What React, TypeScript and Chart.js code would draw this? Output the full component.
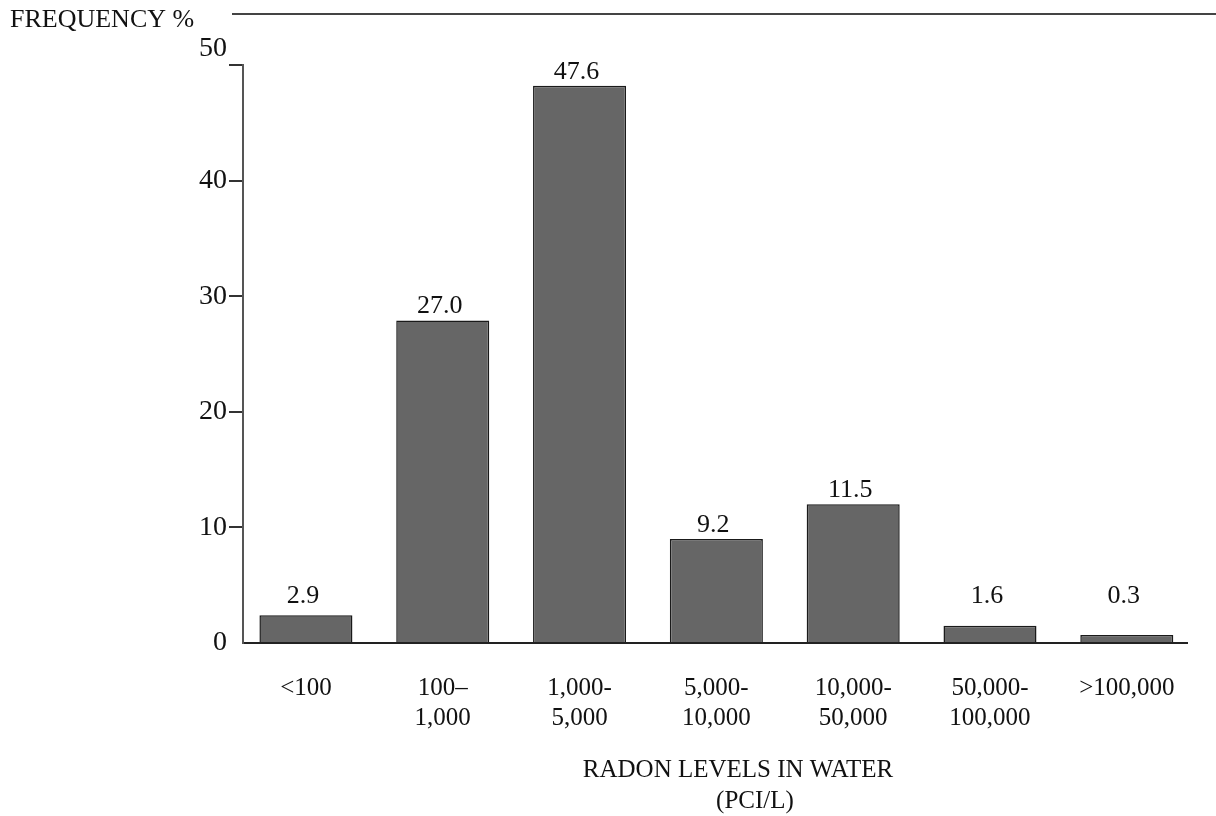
import React, { useEffect, useRef } from 'react';
import { Chart, registerables } from 'chart.js';

Chart.register(...registerables);

// ---- data ----
const categories: string[][] = [
  ['<100'],
  ['100–', '1,000'],
  ['1,000-', '5,000'],
  ['5,000-', '10,000'],
  ['10,000-', '50,000'],
  ['50,000-', '100,000'],
  ['>100,000'],
];
// bar heights as drawn in the picture (percent)
const barHeights = [2.4, 27.9, 48.2, 9.0, 12.0, 1.5, 0.7];
// value labels printed above the bars
const valueLabels = ['2.9', '27.0', '47.6', '9.2', '11.5', '1.6', '0.3'];
const yTicks = [0, 10, 20, 30, 40, 50];
const yAxisLabel = 'FREQUENCY %';
const xAxisTitle = ['RADON LEVELS IN WATER', '(PCI/L)'];

// ---- style ----
const FONT = "'Liberation Serif', 'DejaVu Serif', 'Times New Roman', serif";
const TEXT = '#111111';

const decorPlugin = {
  id: 'decor',
  afterDatasetsDraw(chart: any) {
    const ctx = chart.ctx;
    const yScale = chart.scales.y;
    const meta = chart.getDatasetMeta(0);
    ctx.save();
    ctx.font = `26px ${FONT}`;
    ctx.fillStyle = TEXT;
    ctx.textAlign = 'center';
    ctx.textBaseline = 'alphabetic';
    const floor = yScale.getPixelForValue(3.5);
    meta.data.forEach((bar: any, i: number) => {
      const ty = Math.min(bar.y - 7, floor);
      ctx.fillText(valueLabels[i], bar.x - 3, ty);
    });
    ctx.restore();
  },
  afterDraw(chart: any) {
    const ctx = chart.ctx;
    const area = chart.chartArea;
    ctx.save();
    // top-left axis label
    ctx.font = `26px ${FONT}`;
    ctx.fillStyle = TEXT;
    ctx.textAlign = 'left';
    ctx.textBaseline = 'alphabetic';
    ctx.fillText(yAxisLabel, 10, 27);
    // rule at the top
    ctx.strokeStyle = '#444444';
    ctx.lineWidth = 2;
    ctx.beginPath();
    ctx.moveTo(232, 14);
    ctx.lineTo(chart.width, 14);
    ctx.stroke();
    // x axis title
    const cx = (area.left + area.right) / 2;
    ctx.font = `25px ${FONT}`;
    ctx.textAlign = 'center';
    ctx.fillText(xAxisTitle[0], cx + 23, 777);
    ctx.fillText(xAxisTitle[1], cx + 40, 808);
    ctx.restore();
  },
};

export default function App() {
  const canvasRef = useRef<HTMLCanvasElement | null>(null);

  useEffect(() => {
    const canvas = canvasRef.current;
    if (!canvas) return;
    const chart = new Chart(canvas, {
      type: 'bar',
      data: {
        datasets: [
          {
            data: barHeights.map((v, i) => ({ x: i, y: v })),
            backgroundColor: '#666666',
            borderColor: '#1a1a1a',
            borderWidth: 1.5,
            borderSkipped: 'start',
            categoryPercentage: 1,
            barPercentage: 0.68,
          } as any,
        ],
      },
      options: {
        responsive: false,
        animation: false,
        devicePixelRatio: 1,
        layout: { padding: { top: 65, right: 29, left: 0, bottom: 0 } },
        plugins: {
          legend: { display: false },
          tooltip: { enabled: false },
          title: { display: false },
        },
        scales: {
          x: {
            type: 'linear',
            offset: false,
            min: -0.46,
            max: 6.44,
            afterBuildTicks: (scale: any) => {
              scale.ticks = categories.map((_, i) => ({ value: i }));
            },
            afterFit: (scale: any) => {
              scale.height = 816 - 643;
            },
            grid: { display: false, drawTicks: false, offset: false },
            border: { display: true, color: '#222222', width: 2 },
            ticks: {
              autoSkip: false,
              maxRotation: 0,
              minRotation: 0,
              padding: 30,
              color: TEXT,
              font: { family: FONT, size: 25, lineHeight: 1.2 },
              callback: (value: any) => categories[Math.round(Number(value))] ?? '',
            },
          },
          y: {
            type: 'linear',
            min: 0,
            max: 50,
            afterBuildTicks: (scale: any) => {
              scale.ticks = yTicks.map((v) => ({ value: v }));
            },
            afterFit: (scale: any) => {
              scale.width = 243;
            },
            grid: {
              drawOnChartArea: false,
              drawTicks: true,
              tickLength: 14,
              lineWidth: 2,
              color: (c: any) => (c.tick && c.tick.value === 0 ? 'rgba(0,0,0,0)' : '#333333'),
            },
            border: { display: true, color: '#555555', width: 2 },
            ticks: {
              padding: 2,
              color: TEXT,
              font: { family: FONT, size: 28, lineHeight: 1.2 },
              callback: (value: any) => (Number(value) === 50 ? ['50', ''] : String(value)),
            },
          },
        },
      } as any,
      plugins: [decorPlugin],
    });
    return () => chart.destroy();
  }, []);

  return (
    <div style={{ position: 'fixed', left: 0, top: 0, width: 1216, height: 816, background: '#ffffff' }}>
      <canvas ref={canvasRef} width={1216} height={816} style={{ display: 'block', width: 1216, height: 816 }} />
    </div>
  );
}
